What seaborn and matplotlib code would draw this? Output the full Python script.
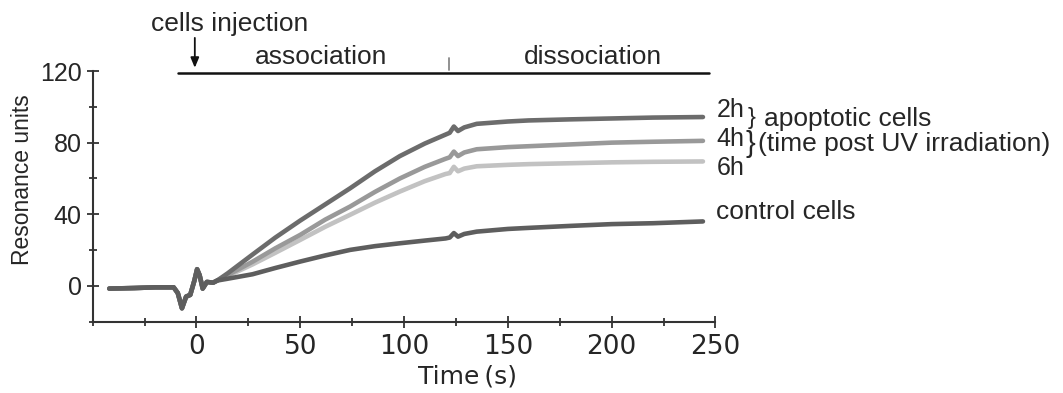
import numpy as np
import pandas as pd
import matplotlib
matplotlib.use("Agg")
import matplotlib.pyplot as plt
import seaborn as sns

# common baseline + injection artefact (all curves overlap here)
t_pre = [-42, -30, -20, -11, -9, -7, -5, -3, -1, 0.3, 1.5, 3, 5, 8]
y_pre = [-1.5, -1.2, -0.8, -0.8, -4, -12.5, -6, -5, 3, 9.3, 6, -1.5, 2.2, 1.8]

# association / dissociation part
t_post = [10, 15, 27, 38, 50, 62, 74, 86, 98, 110, 120, 122, 124, 126, 129,
          135, 150, 160, 180, 200, 220, 244]
y_2h = [3, 7, 17.5, 27, 36.5, 45.5, 54.5, 64, 72.5, 79.5, 84.5, 85.5, 89, 86.5,
        88.5, 90.5, 91.8, 92.4, 93, 93.5, 94, 94.3]
y_4h = [3, 6, 13.5, 21, 28.5, 37, 44.3, 52.5, 60, 66.5, 71, 71.8, 75, 72.5,
        74.5, 76.3, 77.5, 78, 79, 80, 80.5, 81]
y_6h = [3, 5.5, 12, 18.5, 25.7, 33, 39.7, 46.5, 52.7, 58.5, 62.5, 63, 66.5, 64,
        65.5, 66.8, 67.6, 68, 68.5, 69, 69.3, 69.5]
y_ctrl = [3, 4, 6.5, 10, 13.6, 17, 20.1, 22.2, 23.8, 25.3, 26.5, 27, 29.5, 27.5,
          29, 30.3, 31.8, 32.4, 33.5, 34.5, 35, 36]

series = {"6h": y_6h, "4h": y_4h, "2h": y_2h, "control": y_ctrl}
colors = {"6h": "#c2c2c2", "4h": "#999999", "2h": "#6c6c6c", "control": "#5e5e5e"}

rows = []
for name, vals in series.items():
    for t, v in zip(t_pre + t_post, y_pre + vals):
        rows.append({"time": t, "ru": v, "sample": name})
df = pd.DataFrame(rows)

sns.set_style("ticks")
plt.rcParams["font.family"] = ["Liberation Sans", "DejaVu Sans"]

fig = plt.figure(figsize=(10.63, 3.93), dpi=100)
ax = fig.add_axes([0.0872, 0.1814, 0.5858, 0.6379])

sns.lineplot(data=df, x="time", y="ru", hue="sample", hue_order=list(series),
             palette=colors, linewidth=3.3, legend=False, ax=ax, sort=False)

ax.set_xlim(-50, 250)
ax.set_ylim(-20, 120)
ax.set_xticks(range(0, 251, 50))
ax.set_xticks([-50, -25, 25, 75, 125, 175, 225], minor=True)
ax.set_yticks([0, 40, 80, 120])
ax.set_yticks([-20, 20, 60, 100], minor=True)
sns.despine(ax=ax)
for s in ["left", "bottom"]:
    ax.spines[s].set_linewidth(1.5)
    ax.spines[s].set_color("#333333")
ax.tick_params(which="major", direction="inout", length=8, width=1.3, color="#333333")
ax.tick_params(which="minor", direction="inout", length=6, width=1.3, color="#333333")
ax.tick_params(axis="y", labelsize=18, pad=4)
ax.tick_params(axis="x", pad=5)
for lab in ax.get_xticklabels():
    lab.set_fontfamily("DejaVu Sans")
    lab.set_fontsize(19)
ax.set_xlabel("Time\u2009(s)", fontsize=18, family="DejaVu Sans", labelpad=0)
ax.xaxis.set_label_coords(0.602, -0.17)
ax.set_ylabel("Resonance units", fontsize=16.5)
ax.yaxis.set_label_coords(-0.094, 0.565)

# phase bar on top
ax.plot([-9, 247], [119, 119], color="#111111", lw=1.8, clip_on=False)
ax.plot([121.5, 121.5], [120.5, 127.5], color="#888888", lw=1.3, clip_on=False)
ax.text(60, 128, "association", fontsize=19, ha="center", va="center")
ax.text(191, 128, "dissociation", fontsize=19, ha="center", va="center")
ax.text(16, 146.5, "cells injection", fontsize=19, ha="center", va="center")
ax.annotate("", xy=(-0.8, 121.8), xytext=(-0.8, 138.5), annotation_clip=False,
            arrowprops=dict(arrowstyle="-|>,head_length=0.6,head_width=0.25",
                            color="#111111", lw=1.3, shrinkA=0, shrinkB=0))

# curve labels on the right
ax.text(250.5, 94.4, "2h", fontsize=18, va="baseline", clip_on=False)
ax.text(250.5, 78.0, "4h", fontsize=18, va="baseline", clip_on=False)
ax.text(250.5, 62.0, "6h", fontsize=18, va="baseline", clip_on=False)
ax.text(250.5, 41, "control cells", fontsize=19, va="center", clip_on=False)
ax.text(265.5, 94, "}", fontsize=17, va="center", clip_on=False)
ax.text(264.3, 79, "}", fontsize=21, va="center", clip_on=False)
ax.text(273.6, 93, "apoptotic cells", fontsize=19, va="center", clip_on=False)
ax.text(270.3, 79, "(time post UV irradiation)", fontsize=19, va="center",
        clip_on=False)

fig.savefig("out.png", dpi=100)
